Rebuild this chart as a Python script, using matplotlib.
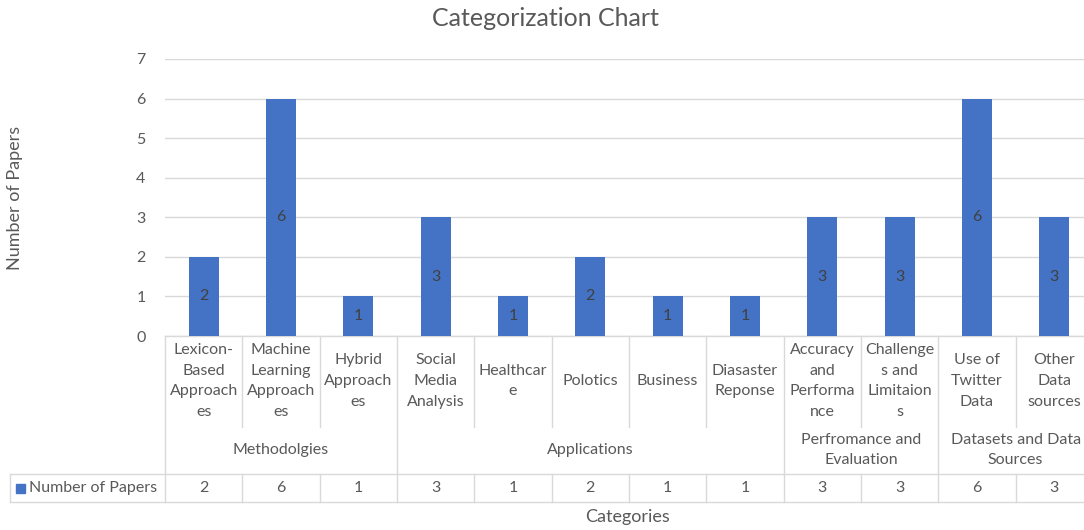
import matplotlib
matplotlib.use("Agg")
import matplotlib.pyplot as plt
from matplotlib.transforms import blended_transform_factory

plt.rcParams['font.family'] = ['Lato', 'DejaVu Sans']

categories = ["Lexicon-\nBased\nApproach\nes", "Machine\nLearning\nApproach\nes", "Hybrid\nApproach\nes",
              "Social\nMedia\nAnalysis", "Healthcar\ne", "Polotics", "Business", "Diasaster\nReponse",
              "Accuracy\nand\nPerforma\nnce", "Challenge\ns and\nLimitaion\ns", "Use of\nTwitter\nData",
              "Other\nData\nsources"]
values = [2, 6, 1, 3, 1, 2, 1, 1, 3, 3, 6, 3]
groups = ["Methodolgies", "Applications", "Perfromance and\nEvaluation", "Datasets and Data\nSources"]
group_sizes = [3, 5, 2, 2]
series_name = "Number of Papers"

BAR = "#4472C4"
TXT = "#595959"
LINE = "#D9D9D9"
FS = 11.5

W, H = 1084, 530
fig = plt.figure(figsize=(W / 100, H / 100), dpi=100)
ax_top, ax_bot, ax_left, ax_right = 59, 336, 165, 1093
ax = fig.add_axes([ax_left / W, 1 - ax_bot / H, (ax_right - ax_left) / W, (ax_bot - ax_top) / H])

n = len(values)
x = list(range(n))
bars = ax.bar(x, values, width=0.39, color=BAR, zorder=3)
for xi, v in zip(x, values):
    ax.text(xi, v / 2, str(v), ha='center', va='center', color="#404040", fontsize=FS, zorder=4)

ax.set_xlim(-0.5, n - 0.5)
ax.set_ylim(0, 7)
ax.set_yticks(range(0, 8))
ax.yaxis.grid(True, color=LINE, linewidth=1, zorder=0)
ax.set_xticks([])
ax.tick_params(axis='y', length=0, pad=14, labelsize=FS, labelcolor=TXT)
for s in ax.spines.values():
    s.set_visible(False)

# table geometry (pixels -> axes fraction)
ph = ax_bot - ax_top
def yf(py):
    return (ax_bot - py) / ph

tr = ax.get_xaxis_transform()
y_axis, y_cat, y_grp, y_row = yf(336), yf(427), yf(474), yf(502)
kw = dict(color=LINE, linewidth=1, transform=tr, clip_on=False, zorder=1)

# horizontal lines
ax.plot([-0.5, n - 0.5], [y_axis, y_axis], **kw)
fx = blended_transform_factory(fig.transFigure, ax.transAxes)
for yy in (y_grp, y_row):
    ax.plot([10 / W, 1.0], [yy, yy], color=LINE, linewidth=1, transform=fx, clip_on=False)
ax.plot([10 / W, 10 / W], [y_grp, y_row], color=LINE, linewidth=1, transform=fx, clip_on=False)

# vertical lines
bounds = [-0.5]
for g in group_sizes:
    bounds.append(bounds[-1] + g)
for k in range(n + 1):
    b = k - 0.5
    if b in bounds:
        ax.plot([b, b], [y_axis, y_row], **kw)
    else:
        ax.plot([b, b], [y_axis, y_cat], **kw)
        ax.plot([b, b], [y_grp, y_row], **kw)

# category labels
for xi, c in zip(x, categories):
    ax.text(xi, yf(381), c, ha='center', va='center', multialignment='center',
            transform=tr, fontsize=FS, color=TXT, linespacing=1.6, clip_on=False)

# group labels
for g, lo, hi in zip(groups, bounds[:-1], bounds[1:]):
    ax.text((lo + hi) / 2, yf(450), g, ha='center', va='center', multialignment='center',
            transform=tr, fontsize=FS, color=TXT, linespacing=1.6, clip_on=False)

# data row
for xi, v in zip(x, values):
    ax.text(xi, yf(488), str(v), ha='center', va='center', transform=tr, fontsize=FS, color=TXT)
fig.patches.append(plt.Rectangle((16 / W, 1 - 493 / H), 9 / W, 9 / H, color=BAR, transform=fig.transFigure))
fig.text(29 / W, 1 - 488 / H, series_name, ha='left', va='center', fontsize=FS, color=TXT)

fig.text(628 / W, 1 - 517 / H, "Categories", ha='center', va='center',
         fontsize=13, color=TXT)
fig.text(15 / W, 1 - 198 / H, "Number of Papers", ha='center', va='center', rotation=90,
         fontsize=13, color=TXT)
fig.text(545 / W, 1 - 19 / H, "Categorization Chart", ha='center', va='center', fontsize=18, color=TXT)

fig.savefig("out.png", dpi=100, facecolor='white')
